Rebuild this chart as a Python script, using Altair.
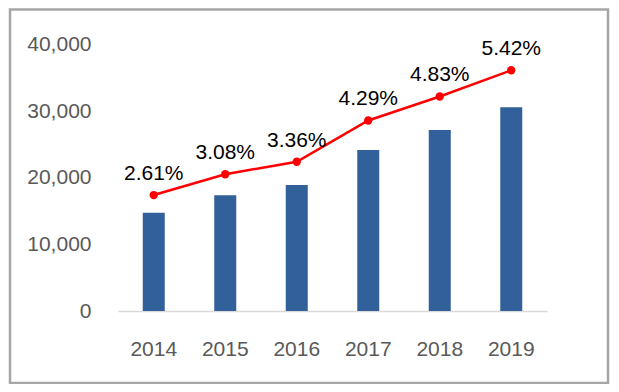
import altair as alt
import pandas as pd

years = ["2014", "2015", "2016", "2017", "2018", "2019"]
values = [14750, 17370, 18910, 24170, 27170, 30570]
rates = [2.61, 3.08, 3.36, 4.29, 4.83, 5.42]
rate_labels = ["2.61%", "3.08%", "3.36%", "4.29%", "4.83%", "5.42%"]
y_ticks = [0, 10000, 20000, 30000, 40000]

df = pd.DataFrame({"year": years, "value": values, "rate": rates, "label": rate_labels})

FONT = "Liberation Sans"
FS = 21
W, H = 429, 266.5

x_enc = alt.X("year:N", sort=years,
              scale=alt.Scale(paddingInner=0, paddingOuter=0),
              axis=alt.Axis(title=None, labelAngle=0, labelFontSize=FS, labelColor="#595959",
                            labelFont=FONT, ticks=False, domainColor="#D9D9D9", domainWidth=1.5,
                            labelPadding=27, grid=False))

bars = alt.Chart(df).mark_bar(size=22, color="#31609A").encode(
    x=x_enc,
    y=alt.Y("value:Q", scale=alt.Scale(domain=[0, 40000], nice=False),
            axis=alt.Axis(title=None, values=y_ticks,
                          labelExpr="format(datum.value, ',')", labelFontSize=FS,
                          labelColor="#595959", labelFont=FONT, ticks=False, domain=False,
                          grid=False, labelPadding=27)),
)

rate_scale = alt.Scale(domain=[0, 6], nice=False)

line = alt.Chart(df).mark_line(color="#FF0000", strokeWidth=2.5,
                               point=alt.OverlayMarkDef(color="#FF0000", size=70, filled=True, opacity=1)).encode(
    x=alt.X("year:N", sort=years),
    y=alt.Y("rate:Q", scale=rate_scale, axis=None),
)

text = alt.Chart(df).mark_text(dy=-21, fontSize=FS, font=FONT, color="#000000").encode(
    x=alt.X("year:N", sort=years),
    y=alt.Y("rate:Q", scale=rate_scale, axis=None),
    text="label:N",
)

border = alt.Chart(pd.DataFrame({"a": [0]})).mark_rect(
    fill=None, stroke="#A6A6A6", strokeWidth=2.5, filled=False
).encode(
    x=alt.value(-108), x2=alt.value(490), y=alt.value(-35), y2=alt.value(338.5)
)

chart = alt.layer(bars, alt.layer(line, text), border).resolve_scale(y="independent").properties(
    width=W, height=H,
    autosize=alt.AutoSizeParams(type="none"),
    padding={"left": 110, "top": 36.5, "right": 64, "bottom": 73},
).configure_view(stroke=None)

chart.save("out.html", embed_options={"renderer": "svg", "actions": False})
